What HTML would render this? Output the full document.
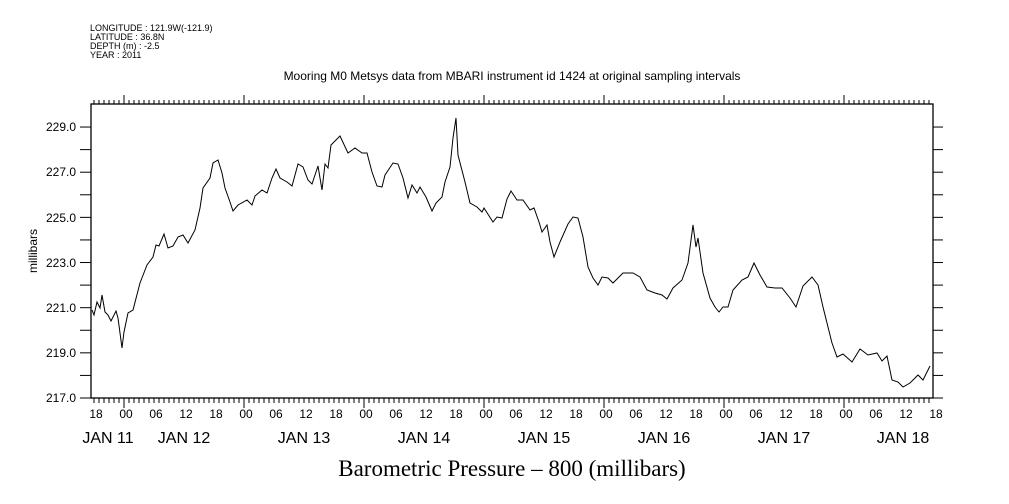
<!DOCTYPE html>
<html><head><meta charset="utf-8"><style>
html,body{margin:0;padding:0;background:#fff;}
svg{display:block;}
text{font-family:"Liberation Sans",sans-serif;fill:#000;}
</style></head><body>
<svg width="1009" height="504" viewBox="0 0 1009 504" xmlns="http://www.w3.org/2000/svg">
<g font-size="9">
<text x="90" y="31">LONGITUDE : 121.9W(-121.9)</text>
<text x="90" y="40">LATITUDE : 36.8N</text>
<text x="90" y="49">DEPTH (m) : -2.5</text>
<text x="90" y="58">YEAR : 2011</text>
</g>
<text x="512" y="80" font-size="12" text-anchor="middle">Mooring M0 Metsys data from MBARI instrument id 1424 at original sampling intervals</text>
<rect x="91" y="104" width="842" height="294" fill="none" stroke="#000" stroke-width="1.3"/>
<g id="tk" stroke="#000" stroke-width="1"></g>
<g font-size="12" text-anchor="end">
<text x="76" y="131">229.0</text><text x="76" y="176">227.0</text><text x="76" y="222">225.0</text>
<text x="76" y="267">223.0</text><text x="76" y="312">221.0</text><text x="76" y="357">219.0</text>
<text x="76" y="402">217.0</text>
</g>
<text transform="translate(37,251) rotate(-90)" font-size="12" text-anchor="middle">millibars</text>
<g id="hl" font-size="12" text-anchor="middle"></g>
<g font-size="16" text-anchor="middle">
<text x="108" y="443">JAN 11</text><text x="184" y="443">JAN 12</text><text x="304" y="443">JAN 13</text>
<text x="424" y="443">JAN 14</text><text x="544" y="443">JAN 15</text><text x="664" y="443">JAN 16</text>
<text x="784" y="443">JAN 17</text><text x="903" y="443">JAN 18</text>
</g>
<text x="512" y="476" font-size="23" text-anchor="middle" style="font-family:'Liberation Serif',serif">Barometric Pressure – 800 (millibars)</text>
<polyline fill="none" stroke="#000" stroke-width="1" points="92,310 94,315 97,302 100,308 102,295 105,312 108,315 111,321 116,311 118,318 120,333 122,348 124,332 128,313 133,310 140,283 147,265 153,257 156,245 159,246 164,234 168,248 173,246 178,237 183,235 188,243 195,230 200,208 203,188 210,178 213,163 218,160 222,173 225,188 230,202 233,211 238,205 247,200 252,205 255,196 262,190 267,193 272,178 276,169 280,178 287,182 292,186 298,164 303,167 308,180 312,184 318,166 322,190 325,164 328,168 331,145 340,136 348,153 355,148 362,153 367,153 372,172 377,186 382,187 385,175 393,163 398,164 403,178 408,198 412,185 417,193 420,187 426,197 432,211 436,203 442,197 445,182 450,167 453,138 456,118 458,155 465,182 470,203 477,207 482,212 484,208 493,222 497,217 502,218 507,199 511,191 517,200 523,200 530,210 534,208 539,222 542,232 547,225 550,242 554,257 560,242 568,224 573,217 578,218 583,237 588,267 593,278 598,285 602,277 608,278 613,283 623,273 633,273 640,277 647,290 655,293 662,295 667,299 673,288 682,280 688,263 693,225 696,247 698,238 703,273 710,298 715,307 719,312 723,307 728,307 733,290 742,280 748,277 754,263 760,275 767,287 775,288 782,288 790,298 796,307 803,286 812,277 818,285 823,307 832,343 837,357 843,354 852,362 860,349 868,355 877,353 882,361 887,356 892,380 898,382 903,387 910,383 918,375 923,380 930,366"/>
</svg>
<script>
var ns="http://www.w3.org/2000/svg",g=document.getElementById('tk'),h=document.getElementById('hl');
function L(a,b,c,d){var l=document.createElementNS(ns,'line');l.setAttribute('x1',a);l.setAttribute('y1',b);l.setAttribute('x2',c);l.setAttribute('y2',d);g.appendChild(l);}
for(var i=-6;i<=162;i++){var x=124+i*5;if(x<91||x>933)continue;var hr=((i%24)+24)%24;var big=hr==0;
L(x,104,x,big?95:100);L(x,398,x,big?408:403);}
for(var v=217;v<=229;v++){var y=398-(v-217)*22.58;L(80,y,91,y);L(933,y,943,y);}
var labs=['18','00','06','12'];
for(var k=0;k<=28;k++){var x=96+k*30;var t=document.createElementNS(ns,'text');t.setAttribute('x',x);t.setAttribute('y',418);t.textContent=labs[k%4];h.appendChild(t);}
</script>
</body></html>
